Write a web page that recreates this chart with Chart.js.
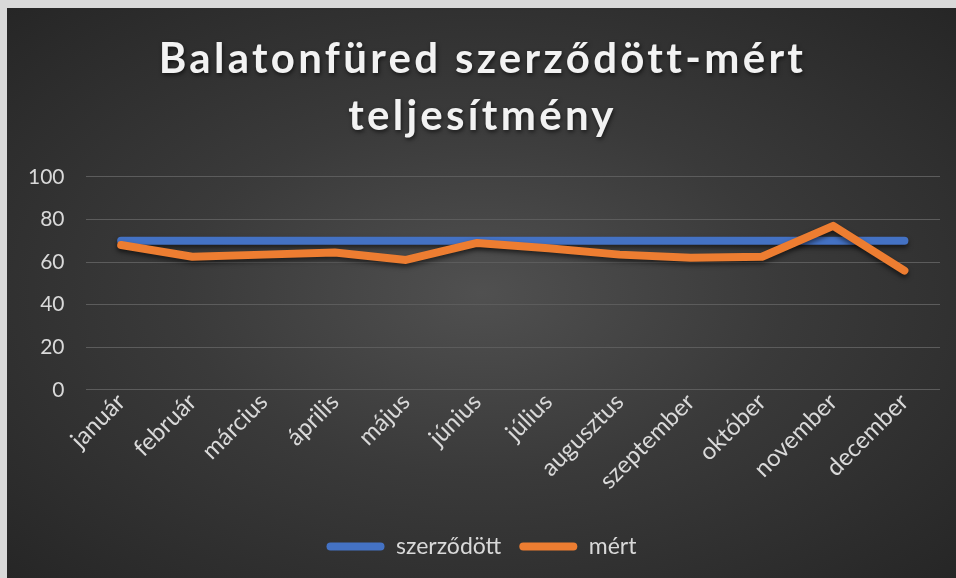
<!DOCTYPE html>
<html>
<head>
<meta charset="utf-8">
<script src="https://cdn.jsdelivr.net/npm/chart.js@4/dist/chart.umd.min.js"></script>
<style>
  html, body { margin: 0; padding: 0; background: #d9d9d9; }
  body { width: 956px; height: 578px; position: relative; overflow: hidden; }
  #wrap {
    position: absolute; left: 7px; top: 8px; width: 949px; height: 570px;
    background: radial-gradient(ellipse farthest-corner at 50% 50%, #505050 0%, #3a3a3a 45%, #262626 100%);
  }
</style>
</head>
<body>
<div id="wrap"><canvas id="chart" width="949" height="570"></canvas></div>
<script>
// adatok
const months = ['január', 'február', 'március', 'április', 'május', 'június',
  'július', 'augusztus', 'szeptember', 'október', 'november', 'december'];
const contracted = [70, 70, 70, 70, 70, 70, 70, 70, 70, 70, 70, 70];
const measured = [68, 62.5, 63.5, 64.5, 61, 69, 66.5, 63.5, 62, 62.5, 77, 56];
const yTicks = [0, 20, 40, 60, 80, 100];
const titleLines = ['Balatonfüred szerződött-mért', 'teljesítmény'];

const textColor = '#d9d9d9';
const fontFamily = 'Lato, "Open Sans", sans-serif';

// vonal árnyék
const lineShadow = {
  id: 'lineShadow',
  beforeDatasetDraw(chart) {
    const ctx = chart.ctx;
    ctx.save();
    ctx.shadowColor = 'rgba(0,0,0,0.55)';
    ctx.shadowBlur = 5;
    ctx.shadowOffsetY = 3;
  },
  afterDatasetDraw(chart) {
    chart.ctx.restore();
  }
};

// cím és jelmagyarázat: kicsit jobbra tolva, cím betűközzel + árnyékkal
const boxStyle = {
  id: 'boxStyle',
  beforeDraw(chart) {
    const patch = (box, fn) => {
      if (!box || box._patched) return;
      const orig = box.draw;
      box.draw = function (...args) {
        const c = this.ctx;
        c.save();
        fn(c);
        orig.apply(this, args);
        c.restore();
      };
      box._patched = true;
    };
    patch(chart.titleBlock, c => {
      c.translate(9, 0);
      c.letterSpacing = '3.3px';
      c.shadowColor = 'rgba(0,0,0,0.6)';
      c.shadowBlur = 4;
      c.shadowOffsetX = 1;
      c.shadowOffsetY = 2;
    });
    patch(chart.legend, c => c.translate(8, 0));
  }
};

const ctx = document.getElementById('chart').getContext('2d');
new Chart(ctx, {
  type: 'line',
  data: {
    labels: months,
    datasets: [
      {
        label: 'szerződött',
        data: contracted,
        borderColor: '#4472c4',
        backgroundColor: '#4472c4',
        borderWidth: 8,
        borderCapStyle: 'round',
        borderJoinStyle: 'round',
        pointRadius: 0,
        tension: 0,
        order: 1
      },
      {
        label: 'mért',
        data: measured,
        borderColor: '#ed7d31',
        backgroundColor: '#ed7d31',
        borderWidth: 8,
        borderCapStyle: 'round',
        borderJoinStyle: 'round',
        pointRadius: 0,
        tension: 0,
        order: 0
      }
    ]
  },
  options: {
    responsive: false,
    animation: false,
    layout: { padding: { left: 0, right: 16, top: 0, bottom: 10 } },
    scales: {
      x: {
        offset: true,
        grid: { display: false, drawTicks: false },
        border: { display: false },
        afterFit(scale) {
          scale.paddingLeft = 0;
          scale.paddingRight = 0;
          scale.height += 24;
        },
        ticks: {
          color: textColor,
          font: { family: fontFamily, size: 24 },
          minRotation: 45,
          maxRotation: 45,
          padding: -2
        }
      },
      y: {
        min: 0,
        max: 100,
        afterBuildTicks(axis) {
          axis.ticks = yTicks.map(v => ({ value: v }));
        },
        grid: { color: '#5c5c5c', lineWidth: 1, drawTicks: false },
        border: { display: false },
        ticks: {
          color: textColor,
          font: { family: fontFamily, size: 21 },
          padding: 21
        }
      }
    },
    plugins: {
      title: {
        display: true,
        text: titleLines,
        color: '#f2f2f2',
        font: { family: fontFamily, size: 42, weight: 'bold', lineHeight: 1.38 },
        padding: { top: 22, bottom: 31 }
      },
      legend: {
        position: 'bottom',
        labels: {
          color: textColor,
          font: { family: fontFamily, size: 23 },
          boxWidth: 58,
          boxHeight: 8,
          useBorderRadius: true,
          borderRadius: 4,
          padding: 18,
          generateLabels(chart) {
            return chart.data.datasets.map((ds, i) => ({
              text: ds.label,
              fillStyle: ds.borderColor,
              strokeStyle: ds.borderColor,
              lineWidth: 0,
              fontColor: textColor,
              borderRadius: 4,
              hidden: false,
              datasetIndex: i
            }));
          }
        }
      },
      tooltip: { enabled: false }
    }
  },
  plugins: [lineShadow, boxStyle]
});
</script>
</body>
</html>
